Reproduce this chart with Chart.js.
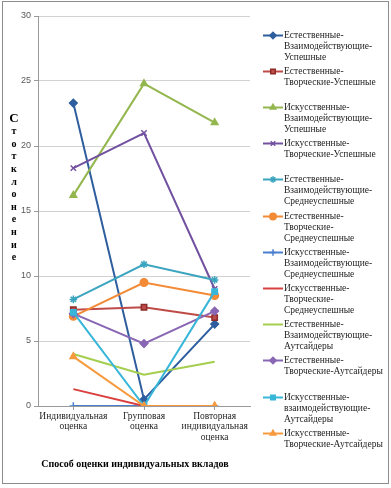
<!DOCTYPE html>
<html>
<head>
<meta charset="utf-8">
<script src="https://cdn.jsdelivr.net/npm/chart.js@4/dist/chart.umd.min.js"></script>
<style>
    body { margin: 0; background: #fff; }
    #wrap { position: relative; width: 391px; height: 488px; }
    #frame { position: absolute; left: 2px; top: 1px; width: 385px; height: 481px; border: 1px solid #8c8c8c; }
    #chart { position: absolute; left: 0; top: 0; }
    .item { position: absolute; left: 263px; }
    .item canvas { position: absolute; left: 0; top: 0; }
    .item div { position: absolute; left: 21px; top: 0; white-space: nowrap; font: 9.5px "Liberation Serif", serif; line-height: 11px; color: #1e1e1e; }
</style>
</head>
<body>
<div id="wrap">
    <div id="frame"></div>
    <canvas id="chart" width="391" height="488"></canvas>
    <div id="legend"></div>
</div>
<script>
const categories = [['Индивидуальная', 'оценка'], ['Групповая', 'оценка'], ['Повторная', 'индивидуальная', 'оценка']];
const yTitle = 'Ст отклонение';
const xTitle = 'Способ оценки индивидуальных вкладов';

const seriesNames = [
    ['Естественные-', 'Взаимодействующие-', 'Успешные'],
    ['Естественные-', 'Творческие-Успешные'],
    ['Искусственные-', 'Взаимодействующие-', 'Успешные'],
    ['Искусственные-', 'Творческие-Успешные'],
    ['Естественные-', 'Взаимодействующие-', 'Среднеуспешные'],
    ['Естественные-', 'Творческие-', 'Среднеуспешные'],
    ['Искусственные-', 'Взаимодействующие-', 'Среднеуспешные'],
    ['Искусственные-', 'Творческие-', 'Среднеуспешные'],
    ['Естественные-', 'Взаимодействующие-', 'Аутсайдеры'],
    ['Естественные-', 'Творческие-Аутсайдеры'],
    ['Искусственные-', 'взаимодействующие-', 'Аутсайдеры'],
    ['Искусственные-', 'Творческие-Аутсайдеры']
];

const natInterSuccess = [23.3, 0.5, 6.3];
const natCreatSuccess = [7.4, 7.6, 6.8];
const artInterSuccess = [16.2, 24.8, 21.8];
const artCreatSuccess = [18.3, 21.0, 9.0];
const natInterMiddle = [8.2, 10.9, 9.7];
const natCreatMiddle = [6.9, 9.5, 8.5];
const artInterMiddle = [0, 0, 0];
const artCreatMiddle = [1.3, 0, 0];
const natInterOutsider = [4.0, 2.4, 3.4];
const natCreatOutsider = [7.1, 4.8, 7.3];
const artInterOutsider = [7.2, 0, 8.8];
const artCreatOutsider = [3.8, 0, 0];

const seriesValues = [
    natInterSuccess, natCreatSuccess, artInterSuccess, artCreatSuccess,
    natInterMiddle, natCreatMiddle, artInterMiddle, artCreatMiddle,
    natInterOutsider, natCreatOutsider, artInterOutsider, artCreatOutsider
];

const lineColors = ['#2E5E9E', '#BE4B48', '#93B74E', '#7251A0', '#3BA4BF', '#F28A36',
    '#4A7FD0', '#D9403E', '#A4CE4E', '#8866B4', '#38B6D9', '#F79A3E'];
const markerBorders = ['#2E5E9E', '#8C2D2B', '#93B74E', '#7251A0', '#3BA4BF', '#F28A36',
    '#4A7FD0', '#D9403E', '#A4CE4E', '#8866B4', '#38B6D9', '#F79A3E'];
const markers = ['rectRot', 'rect', 'triangle', 'crossRot', 'star', 'circle',
    'cross', false, false, 'rectRot', 'rect', 'triangle'];

const datasets = seriesValues.map((values, i) => ({
    label: seriesNames[i].join(''),
    data: values,
    borderColor: lineColors[i],
    backgroundColor: lineColors[i],
    borderWidth: 2,
    pointStyle: markers[i],
    pointRadius: markers[i] ? 3.8 : 0,
    pointBackgroundColor: lineColors[i],
    pointBorderColor: markerBorders[i],
    pointBorderWidth: 1.5,
    tension: 0,
    order: seriesValues.length - i
}));

const axisTitlesPlugin = {
    id: 'axisTitles',
    afterDraw(chart) {
        const ctx = chart.ctx;
        ctx.save();
        ctx.fillStyle = '#000';
        ctx.textAlign = 'center';
        ctx.textBaseline = 'middle';
        Array.from(yTitle.replace(/ /g, '')).forEach((ch, i) => {
            ctx.font = (i === 0 ? 'bold 13px' : 'bold 10px') + ' "Liberation Serif"';
            ctx.fillText(ch, 14, 119 + i * 12.6);
        });
        ctx.font = 'bold 10px "Liberation Serif"';
        ctx.fillText(xTitle, 135, 464);
        ctx.restore();
    }
};

new Chart(document.getElementById('chart').getContext('2d'), {
    type: 'line',
    data: {
        labels: categories,
        datasets: datasets
    },
    options: {
        responsive: false,
        animation: false,
        layout: {
            padding: { left: 0, top: 16, right: 141, bottom: 0 }
        },
        plugins: {
            legend: { display: false },
            tooltip: { enabled: false }
        },
        scales: {
            x: {
                offset: true,
                afterFit: scale => { scale.height = 82; },
                grid: {
                    drawOnChartArea: false,
                    drawTicks: true,
                    tickLength: 4,
                    tickColor: '#9a9a9a'
                },
                border: { color: '#9a9a9a' },
                ticks: {
                    padding: 1,
                    maxRotation: 0,
                    autoSkip: false,
                    color: '#262626',
                    font: { family: '"Liberation Serif", serif', size: 9.5, lineHeight: 1.12 }
                }
            },
            y: {
                min: 0,
                max: 30,
                afterFit: scale => { scale.width = 38; },
                grid: {
                    color: '#d2d2d2',
                    tickLength: 4,
                    tickColor: '#9a9a9a'
                },
                border: { color: '#9a9a9a' },
                ticks: {
                    stepSize: 5,
                    padding: 3,
                    color: '#595959',
                    font: { family: '"Liberation Sans", sans-serif', size: 9 }
                }
            }
        }
    },
    plugins: [axisTitlesPlugin]
});

function drawLegend() {
    const legend = document.getElementById('legend');
    seriesNames.forEach((lines, i) => {
        const item = document.createElement('div');
        item.className = 'item';
        item.style.top = (35 + i * 36.2 - 5.5) + 'px';

        const swatch = document.createElement('canvas');
        swatch.width = 21;
        swatch.height = 11;
        const ctx = swatch.getContext('2d');
        ctx.strokeStyle = lineColors[i];
        ctx.lineWidth = 2;
        ctx.beginPath();
        ctx.moveTo(0, 5.5);
        ctx.lineTo(20, 5.5);
        ctx.stroke();
        if (markers[i] && Chart.helpers && Chart.helpers.drawPoint) {
            ctx.fillStyle = lineColors[i];
            ctx.strokeStyle = markerBorders[i];
            ctx.lineWidth = 1.5;
            Chart.helpers.drawPoint(ctx, { pointStyle: markers[i], radius: 3.2, rotation: 0, borderWidth: 1.5 }, 10, 5.5);
        }
        item.appendChild(swatch);

        const text = document.createElement('div');
        text.innerHTML = lines.join('<br>');
        item.appendChild(text);
        legend.appendChild(item);
    });
}

drawLegend();
</script>
</body>
</html>
